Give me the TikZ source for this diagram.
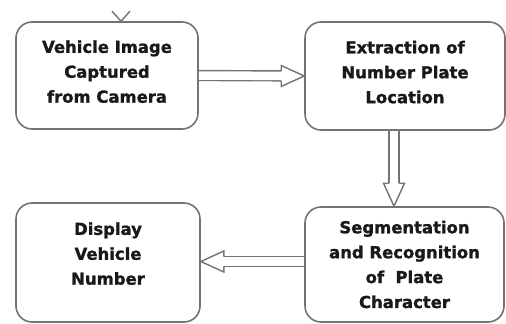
\documentclass[tikz,border=0pt]{standalone}
\usepackage{fontspec}
\setmainfont{DejaVu Sans}[BoldFeatures={FakeBold=1.3}]
\usetikzlibrary{calc}
\tikzset{
  blk/.style={draw=black!55, line width=1.6bp, rounded corners=16bp, fill=white,
    align=center, inner sep=0pt, text=black!90,
    font=\bfseries\fontsize{16.5}{25}\selectfont},
  flow/.style={draw=black!55, line width=1.4bp, double=white, double distance=8.5bp,
    shorten >=22bp},
  blkhead/.pic={
    \filldraw[draw=black!55, fill=white, line width=1.4bp, line join=miter]
      (-23,4.95) -- (-23,10.5) -- (0,0) -- (-23,-10.5) -- (-23,-4.95);
  }
}

\begin{document}
\begin{tikzpicture}[x=1bp, y=1bp]
			%%%%% START %%%%%
			\useasboundingbox (0,0) rectangle (506,323);
			
			\node[blk, minimum width=182bp, minimum height=107bp, text depth=8bp] (veh) at (107,247.5) {Vehicle Image\\Captured\\from Camera};
			\node[blk, minimum width=200bp, minimum height=108bp, text depth=8bp] (ext) at (405,247) {Extraction of\\Number Plate\\Location};
			\node[blk, minimum width=199bp, minimum height=115bp] (seg) at (404.5,58.5) {Segmentation\\and Recognition\\of~~Plate\\Character};
			\node[blk, minimum width=184bp, minimum height=119bp, text depth=18bp] (dsp) at (108,60.5) {Display\\Vehicle\\Number};
			
			% incoming head on top of the first box
			\coordinate (cam) at ([xshift=14bp]veh.north);
			\draw[draw=black!55, line width=1.4bp] ([xshift=-9bp,yshift=10bp]cam) -- (cam) -- ([xshift=9bp,yshift=10bp]cam);
			
			% hollow arrows
			\coordinate (a1) at (ext.west);
			\coordinate (a2) at ([xshift=-11bp]ext.south |- seg.north);
			\coordinate (a3) at ([yshift=3bp]seg.west -| dsp.east);
			
			\draw[flow] (veh.east) -- (a1);
			\path (a1) pic {blkhead};
			
			\draw[flow] ([xshift=-11bp]ext.south) -- (a2);
			\path (a2) pic[rotate=-90] {blkhead};
			
			\draw[flow] ([yshift=3bp]seg.west) -- (a3);
			\path (a3) pic[rotate=180] {blkhead};
			
			%%%%% END %%%%%
\end{tikzpicture}
\end{document}
